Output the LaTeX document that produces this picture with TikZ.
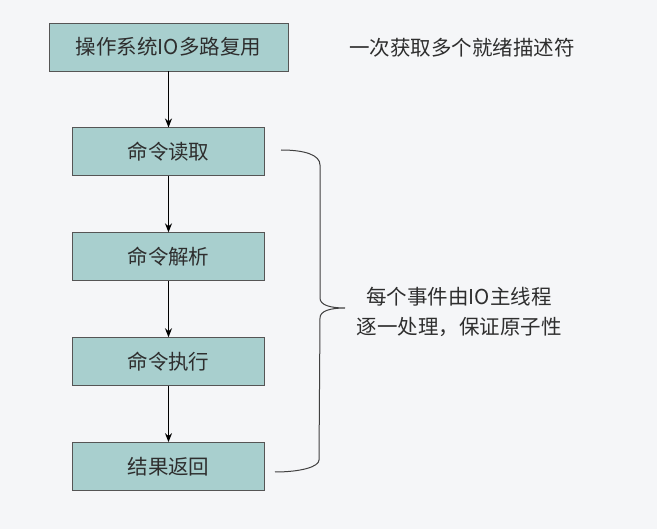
\documentclass[tikz,border=0pt]{standalone}
\usepackage{fontspec}
\setmainfont{Noto Sans CJK SC}
\usepackage{xcolor}
\usepackage{tikz}
\usetikzlibrary{positioning,arrows.meta}
\definecolor{bgcol}{HTML}{F5F6F8}
\definecolor{boxfill}{HTML}{A8CFCE}
\definecolor{boxline}{HTML}{555555}
\definecolor{txtcol}{HTML}{2E2E2E}

\begin{document}
\begin{tikzpicture}[
    x=1pt, y=-1pt,
    font=\fontsize{20.5pt}{30pt}\selectfont,
    text=txtcol,
    stagebox/.style={
        draw=boxline,
        line width=0.9pt,
        fill=boxfill,
        minimum width=192pt,
        minimum height=48pt,
        inner sep=0pt,
        align=center
    },
    arr/.style={-{Stealth[length=9pt,width=7pt]}, line width=1.3pt, black},
    bracel/.style={draw=black!75, line width=1pt},
    note/.style={align=center, inner sep=0pt}
]

% background / page size
\fill[bgcol] (0,0) rectangle (657,529);
\useasboundingbox (0,0) rectangle (657,529);

% main pipeline
\node[stagebox, minimum width=239pt] (mux) at (168.5,47) {操作系统IO多路复用};
\node[stagebox, below=56pt of mux] (read) {命令读取};
\node[stagebox, below=56pt of read] (parse) {命令解析};
\node[stagebox, below=56pt of parse] (exec) {命令执行};
\node[stagebox, below=56pt of exec] (ret) {结果返回};

\draw[arr] (mux) -- (read);
\draw[arr] (read) -- (parse);
\draw[arr] (parse) -- (exec);
\draw[arr] (exec) -- (ret);

% notes
\node[note] (ready) at (462,48) {一次获取多个就绪描述符};
\node[note] (atomic) at (459,312) {每个事件由IO主线程\\逐一处理，保证原子性};

% brace over the four steps
\draw[bracel] (281,150) .. controls (305,150) and (320,155) .. (320,165)
    -- (320,298) .. controls (320,305) and (330,308) .. (345,308)
    .. controls (330,308) and (320,311) .. (320,318)
    -- (319,460) .. controls (319,467) and (300,472) .. (275,472);

\end{tikzpicture}
\end{document}
